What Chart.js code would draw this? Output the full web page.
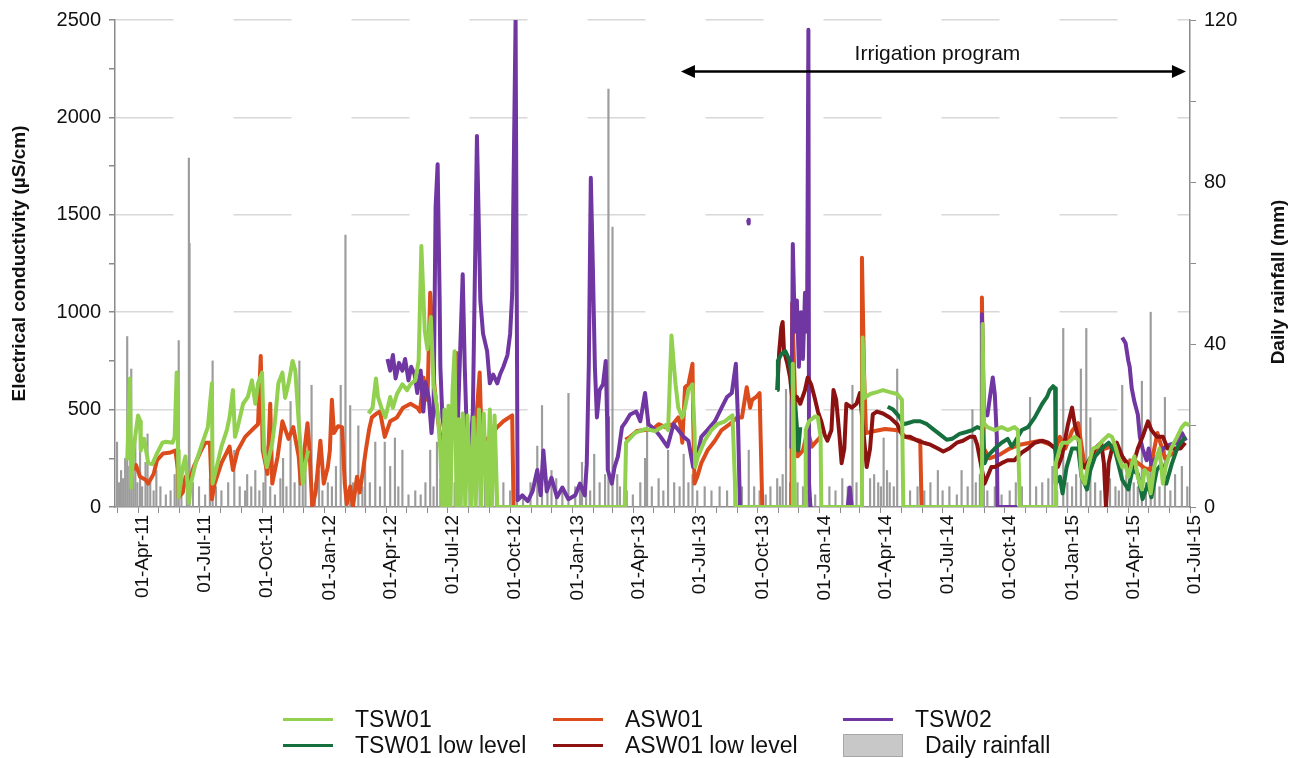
<!DOCTYPE html>
<html>
<head>
<meta charset="utf-8">
<script src="https://cdn.jsdelivr.net/npm/chart.js@4.4.1/dist/chart.umd.min.js"></script>
<style>
  body { margin: 0; background: #fff; }
  #wrap { position: relative; width: 1301px; height: 758px; font-family: "Liberation Sans", Arial, sans-serif; }
  #chart { position: absolute; left: 0; top: 0; }
  .item { position: absolute; font-size: 23px; color: #111; line-height: 26px; white-space: nowrap; }
  .swatch { position: absolute; width: 50px; height: 3px; }
  .box { position: absolute; width: 60px; height: 23px; background: #c8c8c8; border: 1px solid #a8a8a8; box-sizing: border-box; }
</style>
</head>
<body>
<div id="wrap">
  <canvas id="chart" width="1301" height="758"></canvas>
  <div id="legend"></div>
</div>
<script>
// EC readings (µS/cm)
const tsw01 = [
  ['2011-03-16',240],['2011-03-20',660],['2011-03-22',100],['2011-03-25',290],['2011-04-01',470],['2011-04-04',440],['2011-04-05',290],
  ['2011-04-10',350],['2011-04-16',225],['2011-04-22',220],['2011-04-29',275],['2011-05-07',330],['2011-05-12',335],['2011-05-22',330],
  ['2011-05-25',360],['2011-05-28',690],['2011-05-30',290],['2011-05-31',50],['2011-06-06',205],['2011-06-10',260],['2011-06-15',20],
  ['2011-06-18',120],['2011-06-25',225],['2011-07-05',330],['2011-07-13',410],['2011-07-19',635],['2011-07-20',120],['2011-07-26',205],
  ['2011-08-02',310],['2011-08-10',395],['2011-08-14',460],['2011-08-19',600],['2011-08-22',360],['2011-08-26',410],['2011-09-03',530],
  ['2011-09-10',565],['2011-09-16',650],['2011-09-21',530],['2011-09-25',635],['2011-10-01',690],['2011-10-04',290],['2011-10-08',205],
  ['2011-10-16',330],['2011-10-20',440],['2011-10-25',635],['2011-10-31',690],['2011-11-04',560],['2011-11-09',635],['2011-11-15',750],
  ['2011-11-19',700],['2011-11-24',440],['2011-11-27',290],['2011-11-30',120],['2011-12-04',225],['2011-12-08',290],['2011-12-09',null],
  ['2012-03-06',480],['2012-03-12',510],['2012-03-17',660],['2012-03-20',565],['2012-03-25',510],['2012-03-31',460],['2012-04-07',565],
  ['2012-04-11',510],['2012-04-17',580],['2012-04-25',630],['2012-05-02',600],['2012-05-07',630],['2012-05-14',650],['2012-05-19',750],
  ['2012-05-23',1340],['2012-05-28',905],['2012-06-01',810],['2012-06-06',975],['2012-06-10',630],['2012-06-16',490],['2012-06-20',290],
  ['2012-06-23',0],['2012-06-26',500],['2012-06-29',0],['2012-07-02',520],['2012-07-05',0],['2012-07-08',600],['2012-07-11',800],
  ['2012-07-14',0],['2012-07-17',450],['2012-07-20',0],['2012-07-23',480],['2012-07-27',0],['2012-07-30',470],['2012-08-04',0],
  ['2012-08-08',460],['2012-08-11',0],['2012-08-16',500],['2012-08-19',0],['2012-08-23',480],['2012-08-28',0],['2012-09-01',500],
  ['2012-09-04',0],['2012-09-08',470],['2012-09-12',0],
  ['2013-03-19',0],['2013-03-21',330],['2013-04-03',380],['2013-04-18',400],['2013-05-03',390],['2013-05-18',420],['2013-05-22',395],
  ['2013-05-27',880],['2013-05-30',750],['2013-06-02',630],['2013-06-06',510],['2013-06-12',460],['2013-06-16',510],['2013-06-21',600],
  ['2013-06-27',630],['2013-06-30',395],['2013-07-01',205],['2013-07-05',260],['2013-07-15',340],['2013-07-25',395],['2013-08-03',425],
  ['2013-08-14',440],['2013-08-21',460],['2013-08-25',470],['2013-08-30',0],
  ['2013-11-21',0],['2013-11-22',735],['2013-11-25',0],['2013-12-10',0],['2013-12-11',395],['2013-12-16',440],['2013-12-25',465],
  ['2013-12-29',460],['2014-01-02',360],['2014-01-03',0],
  ['2014-03-04',0],['2014-03-05',870],['2014-03-08',560],['2014-03-16',580],['2014-03-26',590],['2014-04-04',600],['2014-04-14',590],
  ['2014-04-25',580],['2014-05-02',550],['2014-05-04',0],
  ['2014-08-28',0],['2014-08-29',940],['2014-08-31',430],['2014-09-05',410],['2014-09-16',395],['2014-09-26',410],['2014-10-05',395],
  ['2014-10-15',410],['2014-10-20',395],['2014-10-23',0],
  ['2014-12-14',0],['2014-12-15',225],['2014-12-21',300],['2014-12-25',330],['2015-01-02',330],['2015-01-12',360],['2015-01-19',340],
  ['2015-01-22',155],['2015-01-27',120],['2015-01-31',205],['2015-02-08',300],['2015-02-15',310],['2015-02-22',340],['2015-03-03',370],
  ['2015-03-08',360],['2015-03-13',310],['2015-03-17',260],['2015-03-23',205],['2015-03-28',215],['2015-04-01',155],['2015-04-06',220],
  ['2015-04-10',260],['2015-04-15',155],['2015-04-21',90],['2015-04-25',190],['2015-04-30',170],['2015-05-04',70],['2015-05-10',220],
  ['2015-05-17',300],['2015-05-22',120],['2015-05-26',205],['2015-06-03',300],['2015-06-12',360],['2015-06-19',410],['2015-06-24',430],
  ['2015-06-30',420]
];

const asw01 = [
  ['2011-03-25',190],['2011-03-29',215],['2011-04-04',155],['2011-04-12',140],['2011-04-16',120],['2011-04-24',170],['2011-04-29',240],
  ['2011-05-08',275],['2011-05-19',280],['2011-05-26',290],['2011-05-30',190],['2011-05-31',50],['2011-06-06',75],['2011-06-10',155],
  ['2011-06-15',120],['2011-06-22',205],['2011-07-03',290],['2011-07-09',330],['2011-07-16',330],['2011-07-19',40],['2011-07-23',120],
  ['2011-08-02',225],['2011-08-14',310],['2011-08-19',190],['2011-08-26',290],['2011-09-06',360],['2011-09-16',395],['2011-09-25',425],
  ['2011-09-29',775],['2011-10-02',290],['2011-10-09',170],['2011-10-13',530],['2011-10-16',120],['2011-10-24',260],['2011-10-31',440],
  ['2011-11-09',350],['2011-11-16',410],['2011-11-24',260],['2011-11-27',120],['2011-12-03',310],['2011-12-07',430],['2011-12-10',290],
  ['2011-12-14',0],['2011-12-19',75],['2011-12-26',340],['2011-12-31',120],['2012-01-06',205],['2012-01-09',290],['2012-01-12',550],
  ['2012-01-15',380],['2012-01-21',415],['2012-01-27',410],['2012-01-31',120],['2012-02-03',15],['2012-02-08',105],['2012-02-12',0],
  ['2012-02-18',155],['2012-02-22',75],['2012-02-27',190],['2012-03-02',290],['2012-03-07',400],['2012-03-11',460],['2012-03-18',480],
  ['2012-03-23',490],['2012-03-30',360],['2012-04-07',440],['2012-04-17',460],['2012-04-26',510],['2012-05-07',530],['2012-05-17',510],
  ['2012-05-21',490],['2012-05-26',665],['2012-06-01',550],['2012-06-05',1100],['2012-06-08',920],['2012-06-11',630],['2012-06-16',460],
  ['2012-06-20',360],['2012-06-28',290],['2012-07-05',300],['2012-07-14',790],['2012-07-17',360],['2012-07-23',260],['2012-07-31',290],
  ['2012-08-10',360],['2012-08-17',690],['2012-08-20',330],['2012-09-01',360],['2012-09-12',410],['2012-09-21',440],['2012-10-04',470],
  ['2012-10-06',0],['2012-10-07',null],
  ['2013-03-20',345],['2013-03-27',360],['2013-04-06',390],['2013-04-18',395],['2013-04-28',395],['2013-05-08',425],['2013-05-18',410],
  ['2013-05-29',425],['2013-06-06',460],['2013-06-09',425],['2013-06-12',330],['2013-06-16',615],['2013-06-21',630],['2013-06-27',735],
  ['2013-06-28',460],['2013-06-30',120],['2013-07-04',155],['2013-07-10',225],['2013-07-19',290],['2013-07-30',340],['2013-08-09',395],
  ['2013-08-21',425],['2013-09-01',460],['2013-09-08',460],['2013-09-15',615],['2013-09-20',510],['2013-09-23',550],['2013-09-29',565],
  ['2013-10-04',585],['2013-10-08',0],['2013-10-09',null],
  ['2013-11-20',0],['2013-11-21',1045],['2013-11-25',600],['2013-11-29',260],['2013-12-07',290],['2013-12-14',395],['2013-12-20',310],
  ['2013-12-25',330],['2014-01-02',360],['2014-01-03',null],
  ['2014-03-03',0],['2014-03-04',1280],['2014-03-07',700],['2014-03-10',380],['2014-03-23',390],['2014-04-07',400],['2014-04-22',395],
  ['2014-04-29',390],['2014-05-07',360],['2014-05-17',350],['2014-05-29',340],['2014-05-31',0],['2014-06-01',null],
  ['2014-08-27',0],['2014-08-28',1075],['2014-08-31',300],['2014-09-08',250],['2014-09-24',270],['2014-10-08',300],['2014-10-23',320],
  ['2014-11-07',330],['2014-11-22',340],['2014-12-07',320],['2014-12-15',300],['2014-12-21',360],['2014-12-29',300],['2015-01-08',390],
  ['2015-01-17',430],['2015-01-27',200],['2015-02-11',290],['2015-02-26',300],['2015-03-13',320],['2015-03-28',230],['2015-04-10',240],
  ['2015-04-25',200],['2015-05-03',190],['2015-05-14',380],['2015-05-25',250],['2015-06-08',280],['2015-06-24',360]
];

const tsw02 = [
  ['2012-04-03',760],['2012-04-07',700],['2012-04-11',780],['2012-04-15',660],['2012-04-20',740],['2012-04-25',700],['2012-04-29',760],
  ['2012-05-04',650],['2012-05-08',720],['2012-05-13',680],['2012-05-17',585],['2012-05-22',700],['2012-05-26',490],['2012-05-29',640],
  ['2012-06-03',560],['2012-06-07',380],['2012-06-10',500],['2012-06-13',1540],['2012-06-16',1760],['2012-06-19',1060],['2012-06-20',720],
  ['2012-06-23',460],['2012-06-28',340],['2012-07-05',460],['2012-07-08',380],['2012-07-16',460],['2012-07-23',1195],['2012-07-26',720],
  ['2012-07-29',380],['2012-08-03',290],['2012-08-07',490],['2012-08-13',1905],['2012-08-15',1570],['2012-08-18',1060],['2012-08-22',890],
  ['2012-08-28',800],['2012-09-01',635],['2012-09-06',680],['2012-09-12',635],['2012-09-16',680],['2012-09-21',720],['2012-09-27',780],
  ['2012-10-01',890],['2012-10-04',1095],['2012-10-09',2500],['2012-10-12',35],['2012-10-19',60],['2012-10-27',30],['2012-11-03',80],
  ['2012-11-10',190],['2012-11-15',60],['2012-11-19',290],['2012-11-24',80],['2012-12-01',150],['2012-12-09',50],['2012-12-17',100],
  ['2012-12-26',40],['2013-01-05',60],['2013-01-12',120],['2013-01-19',60],['2013-01-22',220],['2013-01-25',720],['2013-01-28',1690],
  ['2013-01-31',1230],['2013-02-03',720],['2013-02-06',460],['2013-02-10',600],['2013-02-15',630],['2013-02-19',750],['2013-02-21',460],
  ['2013-02-22',190],['2013-02-28',120],['2013-03-04',205],['2013-03-09',260],['2013-03-15',410],['2013-03-21',440],['2013-03-27',475],
  ['2013-04-05',490],['2013-04-11',440],['2013-04-18',585],['2013-04-23',425],['2013-05-03',395],['2013-05-11',360],['2013-05-21',310],
  ['2013-05-25',360],['2013-05-30',425],['2013-06-06',395],['2013-06-14',360],['2013-06-21',340],['2013-06-28',205],['2013-07-04',260],
  ['2013-07-10',360],['2013-07-19',395],['2013-07-30',440],['2013-08-09',510],['2013-08-17',565],['2013-08-24',585],['2013-08-30',735],
  ['2013-09-02',460],['2013-09-05',0],['2013-09-14',0],['2013-09-15',null],
  ['2013-09-17',1475],['2013-09-18',1455],['2013-09-19',null],
  ['2013-11-20',300],['2013-11-22',1350],['2013-11-25',900],['2013-11-28',1060],['2013-12-01',720],['2013-12-04',1000],['2013-12-07',760],
  ['2013-12-10',1100],['2013-12-13',900],['2013-12-15',2450],['2013-12-16',120],['2013-12-18',0],['2013-12-21',0],['2013-12-22',null],
  ['2014-02-11',0],['2014-02-14',100],['2014-02-17',0],['2014-02-18',null],
  ['2014-08-27',0],['2014-08-28',990],['2014-08-31',495],['2014-09-05',470],['2014-09-13',665],['2014-09-16',580],['2014-09-19',360],
  ['2014-09-20',0],['2014-10-19',0],['2014-10-20',null],
  ['2015-03-23',870],['2015-03-28',840],['2015-04-01',750],['2015-04-03',720],['2015-04-06',610],['2015-04-10',540],['2015-04-15',475],
  ['2015-04-18',360],['2015-04-22',300],['2015-04-28',240],['2015-05-01',300],['2015-05-05',220],['2015-05-14',260],['2015-05-22',300],
  ['2015-06-01',320],['2015-06-12',330],['2015-06-19',380],['2015-06-25',340]
];

const tsw01Low = [
  ['2013-10-30',600],['2013-10-31',750],['2013-11-05',785],['2013-11-11',800],['2013-11-15',770],['2013-11-18',735],['2013-11-22',600],
  ['2013-11-27',460],['2013-11-30',290],['2013-12-03',410],['2013-12-04',null],
  ['2014-04-11',515],['2014-04-19',500],['2014-04-29',460],['2014-05-04',425],['2014-05-10',430],['2014-05-19',440],['2014-05-29',440],
  ['2014-06-08',425],['2014-06-17',400],['2014-06-28',370],['2014-07-07',345],['2014-07-15',350],['2014-07-26',375],['2014-08-05',385],
  ['2014-08-14',395],['2014-08-21',410],['2014-08-29',400],['2014-09-01',225],['2014-09-05',260],['2014-09-16',300],['2014-09-26',330],
  ['2014-10-05',350],['2014-10-11',310],['2014-10-15',330],['2014-10-26',395],['2014-11-04',410],['2014-11-14',460],['2014-11-25',530],
  ['2014-12-02',565],['2014-12-06',600],['2014-12-11',620],['2014-12-14',610],['2014-12-15',120],['2014-12-21',155],['2014-12-25',70],
  ['2014-12-31',205],['2015-01-08',300],['2015-01-17',300],['2015-01-22',155],['2015-01-30',90],['2015-02-04',190],['2015-02-11',260],
  ['2015-02-21',300],['2015-03-03',330],['2015-03-13',280],['2015-03-23',140],['2015-04-01',90],['2015-04-07',190],['2015-04-15',170],
  ['2015-04-22',40],['2015-04-30',120],['2015-05-05',50],['2015-05-13',190],['2015-05-20',220],['2015-05-27',120],['2015-06-04',220],
  ['2015-06-13',310],['2015-06-24',360]
];

const asw01Low = [
  ['2013-10-30',600],['2013-11-02',800],['2013-11-05',920],['2013-11-07',950],['2013-11-09',800],['2013-11-14',735],['2013-11-18',665],
  ['2013-11-22',530],['2013-11-28',565],['2013-12-03',530],['2013-12-10',600],['2013-12-14',665],['2013-12-19',630],['2013-12-25',550],
  ['2013-12-29',490],['2014-01-03',440],['2014-01-08',370],['2014-01-12',340],['2014-01-18',395],['2014-01-21',600],['2014-01-25',550],
  ['2014-01-30',360],['2014-02-02',225],['2014-02-06',300],['2014-02-09',530],['2014-02-17',510],['2014-02-24',530],['2014-03-01',585],
  ['2014-03-06',395],['2014-03-11',205],['2014-03-16',300],['2014-03-20',475],['2014-03-26',490],['2014-04-04',480],['2014-04-14',460],
  ['2014-04-25',425],['2014-04-29',395],['2014-05-04',360],['2014-05-14',360],['2014-05-25',340],['2014-06-03',330],['2014-06-13',320],
  ['2014-06-24',300],['2014-07-02',285],['2014-07-11',300],['2014-07-22',330],['2014-07-31',340],['2014-08-10',360],['2014-08-17',360],
  ['2014-08-21',320],['2014-09-01',120],['2014-09-05',155],['2014-09-11',205],['2014-09-16',205],['2014-09-26',225],['2014-10-05',240],
  ['2014-10-15',240],['2014-10-26',280],['2014-11-04',300],['2014-11-14',330],['2014-11-25',340],['2014-12-04',330],['2014-12-14',300],
  ['2014-12-18',205],['2014-12-24',260],['2015-01-02',425],['2015-01-08',510],['2015-01-12',425],['2015-01-17',360],['2015-01-22',225],
  ['2015-01-27',205],['2015-01-31',225],['2015-02-11',300],['2015-02-20',330],['2015-02-24',225],['2015-02-27',0],['2015-03-03',225],
  ['2015-03-08',300],['2015-03-15',330],['2015-03-23',260],['2015-03-30',225],['2015-04-06',190],['2015-04-15',300],['2015-04-22',360],
  ['2015-04-30',440],['2015-05-05',395],['2015-05-13',360],['2015-05-22',360],['2015-05-29',300],['2015-06-09',300],['2015-06-17',300],
  ['2015-06-24',330]
];

// daily rainfall (mm), right axis
const rainfall = [
  ['2011-03-01',16],['2011-03-04',6],['2011-03-07',9],['2011-03-10',7],['2011-03-13',12],['2011-03-16',42],['2011-03-19',10],
  ['2011-03-22',34],['2011-03-25',8],['2011-03-28',17],['2011-03-31',6],['2011-04-04',22],['2011-04-07',5],['2011-04-12',11],
  ['2011-04-15',18],['2011-04-19',6],['2011-04-24',4],['2011-04-28',9],['2011-05-04',5],['2011-05-12',3],['2011-05-19',4],
  ['2011-05-25',8],['2011-05-28',12],['2011-05-31',41],['2011-06-04',7],['2011-06-12',4],['2011-06-15',86],['2011-06-16',65],
  ['2011-06-21',6],['2011-06-30',5],['2011-07-09',3],['2011-07-16',7],['2011-07-20',36],['2011-07-25',5],['2011-08-02',4],
  ['2011-08-12',6],['2011-08-21',14],['2011-08-29',5],['2011-09-06',4],['2011-09-09',8],['2011-09-15',5],['2011-09-21',9],
  ['2011-09-27',4],['2011-10-03',6],['2011-10-06',15],['2011-10-13',5],['2011-10-20',3],['2011-10-28',7],['2011-11-01',12],
  ['2011-11-06',5],['2011-11-12',26],['2011-11-18',6],['2011-11-25',36],['2011-11-30',8],['2011-12-04',14],['2011-12-13',30],
  ['2011-12-18',6],['2011-12-24',9],['2011-12-29',4],['2012-01-06',6],['2012-01-12',5],['2012-01-18',10],['2012-01-25',30],
  ['2012-02-01',67],['2012-02-08',25],['2012-02-12',6],['2012-02-20',20],['2012-02-26',5],['2012-03-01',11],['2012-03-08',6],
  ['2012-03-16',16],['2012-03-23',5],['2012-03-30',16],['2012-04-07',10],['2012-04-14',17],['2012-04-19',5],['2012-04-25',14],
  ['2012-05-04',3],['2012-05-14',4],['2012-05-22',3],['2012-05-29',6],['2012-06-05',14],['2012-06-10',5],['2012-06-15',16],
  ['2012-06-20',7],['2012-06-28',4],['2012-07-05',5],['2012-07-11',6],['2012-07-19',8],['2012-07-26',4],['2012-08-02',6],
  ['2012-08-10',3],['2012-08-17',6],['2012-08-25',7],['2012-09-01',4],['2012-09-10',5],['2012-09-21',6],['2012-10-01',4],
  ['2012-10-11',5],['2012-10-20',3],['2012-10-31',6],['2012-11-10',15],['2012-11-17',25],['2012-11-25',5],['2012-12-01',9],
  ['2012-12-08',7],['2012-12-17',4],['2012-12-26',28],['2013-01-05',5],['2013-01-12',6],['2013-01-15',11],['2013-01-21',13],
  ['2013-01-27',4],['2013-02-02',13],['2013-02-10',6],['2013-02-18',8],['2013-02-23',103],['2013-03-01',69],['2013-03-08',8],
  ['2013-03-12',5],['2013-03-22',4],['2013-03-31',3],['2013-04-11',6],['2013-04-18',12],['2013-04-21',22],['2013-04-28',5],
  ['2013-05-08',7],['2013-05-15',4],['2013-05-22',14],['2013-05-31',6],['2013-06-08',5],['2013-06-14',13],['2013-06-21',6],
  ['2013-06-27',8],['2013-07-04',4],['2013-07-15',5],['2013-07-25',4],['2013-08-06',5],['2013-08-17',4],['2013-08-28',6],
  ['2013-09-08',5],['2013-09-18',14],['2013-09-26',5],['2013-10-04',4],['2013-10-13',3],['2013-10-20',5],['2013-10-30',7],
  ['2013-11-03',5],['2013-11-07',8],['2013-11-12',29],['2013-11-18',6],['2013-11-25',12],['2013-11-29',6],['2013-12-07',5],
  ['2013-12-14',4],['2013-12-25',3],['2014-01-03',4],['2014-01-15',5],['2014-01-24',4],['2014-02-03',7],['2014-02-11',5],
  ['2014-02-18',30],['2014-02-24',6],['2014-03-04',5],['2014-03-16',7],['2014-03-22',8],['2014-03-28',6],['2014-04-01',5],
  ['2014-04-05',17],['2014-04-10',9],['2014-04-14',6],['2014-04-20',5],['2014-04-25',34],['2014-05-04',4],['2014-05-14',4],
  ['2014-05-25',5],['2014-06-04',4],['2014-06-13',6],['2014-06-24',9],['2014-07-01',4],['2014-07-11',5],['2014-07-22',3],
  ['2014-07-29',9],['2014-08-07',5],['2014-08-14',24],['2014-08-19',6],['2014-08-25',8],['2014-08-31',6],['2014-09-05',4],
  ['2014-09-16',5],['2014-09-26',3],['2014-10-08',4],['2014-10-17',6],['2014-10-26',5],['2014-11-07',27],['2014-11-16',5],
  ['2014-11-25',6],['2014-12-04',7],['2014-12-10',10],['2014-12-17',4],['2014-12-26',44],['2015-01-01',6],['2015-01-08',5],
  ['2015-01-14',8],['2015-01-21',34],['2015-01-29',44],['2015-02-04',22],['2015-02-11',6],['2015-02-19',4],['2015-02-27',5],
  ['2015-03-05',7],['2015-03-13',5],['2015-03-18',4],['2015-03-23',30],['2015-03-29',8],['2015-04-03',12],['2015-04-09',6],
  ['2015-04-15',5],['2015-04-21',31],['2015-04-27',6],['2015-05-04',48],['2015-05-10',6],['2015-05-17',5],['2015-05-25',27],
  ['2015-06-02',4],['2015-06-09',8],['2015-06-19',10],['2015-06-27',5]
];

// axis ranges and annotation
const xStart = '2011-02-26';
const xEnd = '2015-07-01';
const ecTicks = [0, 500, 1000, 1500, 2000, 2500];
const rainTicks = [0, 40, 80, 120];
const irrigationStart = '2013-06-10';
const irrigationEnd = '2015-06-25';
const irrigationLevel = 2235;
const irrigationLabel = 'Irrigation program';

const MONTHS = ['Jan','Feb','Mar','Apr','May','Jun','Jul','Aug','Sep','Oct','Nov','Dec'];
const toDay = s => Date.parse(s + 'T00:00:00Z') / 864e5;
const pts = arr => arr.map(([d, v]) => ({ x: toDay(d), y: v }));

function monthTicks() {
  const out = [];
  for (let y = 2011; y <= 2015; y++) {
    for (let m = 0; m < 12; m++) {
      const v = Date.UTC(y, m, 1) / 864e5;
      if (v >= toDay(xStart) && v <= toDay(xEnd)) out.push({ value: v });
    }
  }
  return out;
}

function fmtDate(v) {
  const dt = new Date(Math.round(v) * 864e5);
  const m = dt.getUTCMonth();
  if (m % 3 !== 0) return '';
  return '01-' + MONTHS[m] + '-' + String(dt.getUTCFullYear()).slice(2);
}

const FONT = '"Liberation Sans", Arial, sans-serif';

const extras = {
  id: 'extras',
  afterDraw(chart) {
    const { ctx, chartArea, scales } = chart;
    const mid = (chartArea.top + chartArea.bottom) / 2;
    ctx.save();
    ctx.fillStyle = '#111';
    ctx.font = 'bold 19px ' + FONT;
    ctx.textAlign = 'center';
    ctx.textBaseline = 'middle';
    // axis titles, both read bottom to top
    ctx.save();
    ctx.translate(20, mid);
    ctx.rotate(-Math.PI / 2);
    ctx.fillText('Electrical conductivity (µS/cm)', 0, 0);
    ctx.restore();
    ctx.save();
    ctx.translate(1279, 282);
    ctx.rotate(-Math.PI / 2);
    ctx.fillText('Daily rainfall (mm)', 0, 0);
    ctx.restore();

    // irrigation arrow
    const x1 = scales.x.getPixelForValue(toDay(irrigationStart));
    const x2 = scales.x.getPixelForValue(toDay(irrigationEnd));
    const y = scales.y.getPixelForValue(irrigationLevel);
    const head = 14, hw = 6.5;
    ctx.strokeStyle = '#000';
    ctx.fillStyle = '#000';
    ctx.lineWidth = 2.5;
    ctx.beginPath();
    ctx.moveTo(x1 + head - 2, y);
    ctx.lineTo(x2 - head + 2, y);
    ctx.stroke();
    ctx.beginPath();
    ctx.moveTo(x1, y); ctx.lineTo(x1 + head, y - hw); ctx.lineTo(x1 + head, y + hw); ctx.closePath();
    ctx.fill();
    ctx.beginPath();
    ctx.moveTo(x2, y); ctx.lineTo(x2 - head, y - hw); ctx.lineTo(x2 - head, y + hw); ctx.closePath();
    ctx.fill();
    ctx.font = '21px ' + FONT;
    ctx.fillStyle = '#111';
    ctx.textBaseline = 'alphabetic';
    ctx.fillText(irrigationLabel, (x1 + x2) / 2 + 4, y - 12);
    ctx.restore();
  }
};

const series = [
  { label: 'TSW01', data: tsw01, color: '#92D050', order: 0 },
  { label: 'TSW01 low level', data: tsw01Low, color: '#15703D', order: 1 },
  { label: 'ASW01 low level', data: asw01Low, color: '#8C1212', order: 2 },
  { label: 'TSW02', data: tsw02, color: '#7036A2', order: 3 },
  { label: 'ASW01', data: asw01, color: '#DC4B1B', order: 4 }
];

const datasets = series.map(s => ({
  type: 'line',
  label: s.label,
  data: pts(s.data),
  borderColor: s.color,
  backgroundColor: s.color,
  borderWidth: 4,
  pointRadius: 0,
  tension: 0,
  spanGaps: false,
  borderJoinStyle: 'round',
  yAxisID: 'y',
  order: s.order
}));

datasets.push({
  type: 'bar',
  label: 'Daily rainfall',
  data: pts(rainfall),
  backgroundColor: '#9c9c9c',
  barThickness: 1.5,
  yAxisID: 'y2',
  order: 9
});

new Chart(document.getElementById('chart'), {
  type: 'line',
  data: { datasets },
  options: {
    responsive: false,
    devicePixelRatio: 1,
    animation: false,
    layout: { padding: { top: 19, left: 0, right: 0, bottom: 0 } },
    plugins: { legend: { display: false }, tooltip: { enabled: false } },
    scales: {
      x: {
        type: 'linear',
        offset: false,
        min: toDay(xStart),
        max: toDay(xEnd),
        afterBuildTicks: axis => { axis.ticks = monthTicks(); },
        afterFit: axis => { axis.height = 251; },
        grid: { offset: false, drawOnChartArea: false, tickLength: 6, tickColor: '#8a8a8a' },
        border: { color: '#8a8a8a', width: 1.5 },
        ticks: {
          autoSkip: false, maxRotation: 90, minRotation: 90, padding: 2, labelOffset: 5,
          color: '#111', font: { family: FONT, size: 19, lineHeight: 0.75 },
          callback: v => fmtDate(v)
        }
      },
      y: {
        position: 'left',
        min: 0, max: 2500,
        afterBuildTicks: axis => { axis.ticks = []; for (let v = 0; v <= 2500; v += 250) axis.ticks.push({ value: v }); },
        afterFit: axis => { axis.width = 115; },
        grid: {
          color: c => (c.tick && c.tick.value % 500 === 0 && c.tick.value > 0) ? '#d8d8d8' : 'rgba(0,0,0,0)',
          lineWidth: 1.5,
          tickColor: '#8a8a8a', tickLength: 6
        },
        border: { color: '#8a8a8a', width: 1.5, dash: [58, 60] },
        ticks: {
          padding: 8, color: '#111', font: { family: FONT, size: 20 },
          callback: v => ecTicks.includes(v) ? v : ''
        }
      },
      y2: {
        position: 'right',
        min: 0, max: 120,
        afterBuildTicks: axis => { axis.ticks = []; for (let v = 0; v <= 120; v += 20) axis.ticks.push({ value: v }); },
        afterFit: axis => { axis.width = 111; },
        grid: { drawOnChartArea: false, tickColor: '#8a8a8a', tickLength: 6 },
        border: { color: '#8a8a8a', width: 1.5 },
        ticks: {
          padding: 8, color: '#111', font: { family: FONT, size: 20 },
          callback: v => rainTicks.includes(v) ? v : ''
        }
      }
    }
  },
  plugins: [extras]
});

// legend, laid out in three columns like the original
const legendItems = [
  { label: 'TSW01', color: '#92D050', col: 0, row: 0 },
  { label: 'ASW01', color: '#DC4B1B', col: 1, row: 0 },
  { label: 'TSW02', color: '#7036A2', col: 2, row: 0 },
  { label: 'TSW01 low level', color: '#15703D', col: 0, row: 1 },
  { label: 'ASW01 low level', color: '#8C1212', col: 1, row: 1 },
  { label: 'Daily rainfall', color: null, col: 2, row: 1 }
];
const colX = [283, 553, 843];
const rowY = [719, 745];
const legend = document.getElementById('legend');
legendItems.forEach(it => {
  const x = colX[it.col], y = rowY[it.row];
  const sw = document.createElement('div');
  if (it.color) {
    sw.className = 'swatch';
    sw.style.left = x + 'px';
    sw.style.top = (y - 1.5) + 'px';
    sw.style.background = it.color;
  } else {
    sw.className = 'box';
    sw.style.left = x + 'px';
    sw.style.top = (y - 11.5) + 'px';
  }
  legend.appendChild(sw);
  const tx = document.createElement('div');
  tx.className = 'item';
  tx.textContent = it.label;
  tx.style.left = (x + (it.color ? 72 : 82)) + 'px';
  tx.style.top = (y - 13) + 'px';
  legend.appendChild(tx);
});
</script>
</body>
</html>
